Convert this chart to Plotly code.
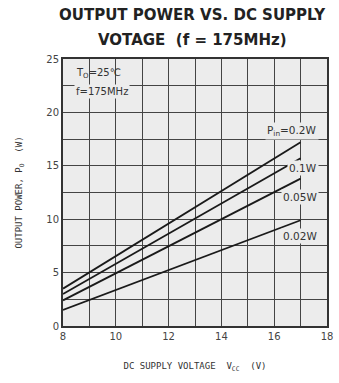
import plotly.graph_objects as go

vcc = [8, 17]
series_names = ["0.2W", "0.1W", "0.05W", "0.02W"]
po_02 = [3.5, 17.2]
po_01 = [3.0, 15.7]
po_005 = [2.4, 13.8]
po_002 = [1.5, 9.9]
series_vals = [po_02, po_01, po_005, po_002]
label_texts = ["P<sub>in</sub>=0.2W", "0.1W", "0.05W", "0.02W"]
label_pos = [(17.7, 18.3), (17.7, 14.8), (17.7, 12.1), (17.7, 8.4)]
title_lines = ["OUTPUT POWER VS. DC SUPPLY", "VOTAGE  (f = 175MHz)"]

x_ticks = [8, 10, 12, 14, 16, 18]
y_ticks = [0, 5, 10, 15, 20, 25]

fig = go.Figure()
for name, vals in zip(series_names, series_vals):
    fig.add_trace(go.Scatter(x=vcc, y=vals, mode="lines", name=name,
                             line=dict(color="#1a1a1a", width=1.8), showlegend=False))

for txt, (lx, ly) in zip(label_texts, label_pos):
    fig.add_annotation(x=lx, y=ly, text=txt, showarrow=False, xanchor="right", yanchor="middle",
                       font=dict(family="DejaVu Sans", size=10.5, color="#333333"),
                       bgcolor="#ececec")

fig.add_annotation(x=8.4, y=23.6, text="T<sub>O</sub>=25℃", showarrow=False, xanchor="left",
                   font=dict(family="DejaVu Sans", size=10, color="#333333"))
fig.add_annotation(x=8.4, y=22.0, text="f=175MHz", showarrow=False, xanchor="left",
                   font=dict(family="DejaVu Sans", size=10, color="#333333"), bgcolor="#ececec")

for line, py in zip(title_lines, [1.165, 1.072]):
    fig.add_annotation(xref="paper", yref="paper", x=0.49, y=py, text="<b>" + line + "</b>",
                       showarrow=False, xanchor="center", yanchor="middle",
                       font=dict(family="DejaVu Sans", size=15, color="#222222"))

fig.update_layout(
    width=339, height=383,
    margin=dict(l=63, r=6, t=59, b=57),
    paper_bgcolor="white",
    plot_bgcolor="#ececec",
    xaxis=dict(range=[8, 18], tickvals=x_ticks, ticktext=[str(v) for v in x_ticks],
               showgrid=True, gridcolor="#444444", gridwidth=1,
               minor=dict(dtick=1, showgrid=True, gridcolor="#444444", gridwidth=1),
               showline=True, linecolor="#333333", linewidth=2, mirror=True,
               zeroline=False, ticks="",
               tickfont=dict(family="DejaVu Sans", size=10, color="#444444"),
               title=dict(text="DC SUPPLY VOLTAGE  V<sub>CC</sub>  (V)", standoff=22,
                          font=dict(family="DejaVu Sans Mono", size=9, color="#333333"))),
    yaxis=dict(range=[0, 25], tickvals=y_ticks,
               showgrid=True, gridcolor="#444444", gridwidth=1,
               minor=dict(dtick=2.5, showgrid=True, gridcolor="#444444", gridwidth=1),
               showline=True, linecolor="#333333", linewidth=2, mirror=True,
               zeroline=False, ticks="",
               tickfont=dict(family="DejaVu Sans", size=10, color="#444444"),
               title=dict(text="OUTPUT POWER, P<sub>O</sub>  (W)", standoff=22,
                          font=dict(family="DejaVu Sans Mono", size=9, color="#333333"))),
)

fig.write_html("out.html")
